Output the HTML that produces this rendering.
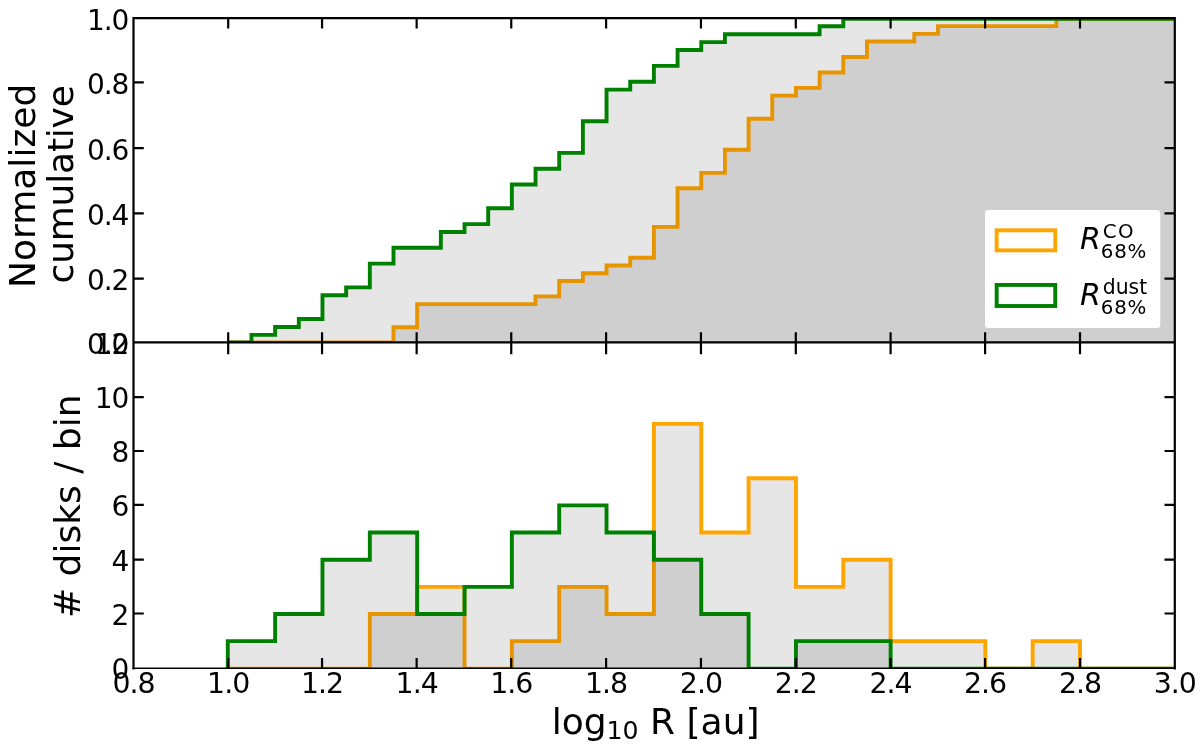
<!DOCTYPE html>
<html lang="en">
<head>
<meta charset="utf-8">
<title>Disk radii histograms</title>
<style>
html,body{margin:0;padding:0;background:#fff}
body{width:1200px;height:749px;overflow:hidden}
svg{display:block}
</style>
</head>
<body>
<svg width="1200" height="749" viewBox="0 0 1200 749">
<defs>
<clipPath id="ct"><rect x="133.5" y="18.1" width="1041.3" height="324.35"/></clipPath>
<clipPath id="cb"><rect x="133.5" y="342.45" width="1041.3" height="325.85"/></clipPath>
</defs>
<rect width="1200" height="749" fill="#fff"/>
<g clip-path="url(#ct)" stroke-linejoin="miter" stroke-linecap="butt">
<path d="M227.79 342.45 L251.46 342.45 L275.14 342.45 L298.81 342.45 L322.48 342.45 L346.15 342.45 L369.83 342.45 L393.5 342.45 L393.5 327.3 L417.17 327.3 L417.17 304.14 L440.85 304.14 L464.52 304.14 L488.19 304.14 L511.86 304.14 L535.54 304.14 L535.54 296.41 L559.21 296.41 L559.21 280.97 L582.88 280.97 L582.88 273.25 L606.55 273.25 L606.55 265.52 L630.23 265.52 L630.23 257.8 L653.9 257.8 L653.9 226.91 L677.57 226.91 L677.57 188.3 L701.25 188.3 L701.25 172.85 L724.92 172.85 L724.92 149.68 L748.59 149.68 L748.59 118.79 L772.26 118.79 L772.26 95.63 L795.94 95.63 L795.94 87.9 L819.61 87.9 L819.61 72.46 L843.28 72.46 L843.28 57.01 L866.95 57.01 L866.95 41.57 L890.63 41.57 L914.3 41.57 L914.3 33.85 L937.97 33.85 L937.97 26.12 L961.65 26.12 L985.32 26.12 L1008.99 26.12 L1032.66 26.12 L1056.34 26.12 L1056.34 18.7 L1080.01 18.7 L1103.68 18.7 L1127.35 18.7 L1151.03 18.7 L1174.7 18.7 L1174.7 342.45 Z" fill="#000" fill-opacity="0.099"/>
<path d="M227.79 342.45 L251.46 342.45 L275.14 342.45 L298.81 342.45 L322.48 342.45 L346.15 342.45 L369.83 342.45 L393.5 342.45 L393.5 327.3 L417.17 327.3 L417.17 304.14 L440.85 304.14 L464.52 304.14 L488.19 304.14 L511.86 304.14 L535.54 304.14 L535.54 296.41 L559.21 296.41 L559.21 280.97 L582.88 280.97 L582.88 273.25 L606.55 273.25 L606.55 265.52 L630.23 265.52 L630.23 257.8 L653.9 257.8 L653.9 226.91 L677.57 226.91 L677.57 188.3 L701.25 188.3 L701.25 172.85 L724.92 172.85 L724.92 149.68 L748.59 149.68 L748.59 118.79 L772.26 118.79 L772.26 95.63 L795.94 95.63 L795.94 87.9 L819.61 87.9 L819.61 72.46 L843.28 72.46 L843.28 57.01 L866.95 57.01 L866.95 41.57 L890.63 41.57 L914.3 41.57 L914.3 33.85 L937.97 33.85 L937.97 26.12 L961.65 26.12 L985.32 26.12 L1008.99 26.12 L1032.66 26.12 L1056.34 26.12 L1056.34 18.7 L1080.01 18.7 L1103.68 18.7 L1127.35 18.7 L1151.03 18.7 L1174.7 18.7" fill="none" stroke="#ffa500" stroke-width="3.9"/>
<path d="M227.79 342.45 L251.46 342.45 L251.46 334.84 L275.14 334.84 L275.14 326.93 L298.81 326.93 L298.81 319.02 L322.48 319.02 L322.48 295.28 L346.15 295.28 L346.15 287.37 L369.83 287.37 L369.83 263.64 L393.5 263.64 L393.5 247.82 L417.17 247.82 L440.85 247.82 L440.85 232 L464.52 232 L464.52 224.09 L488.19 224.09 L488.19 208.26 L511.86 208.26 L511.86 184.53 L535.54 184.53 L535.54 168.71 L559.21 168.71 L559.21 152.89 L582.88 152.89 L582.88 121.24 L606.55 121.24 L606.55 89.6 L630.23 89.6 L630.23 81.69 L653.9 81.69 L653.9 65.87 L677.57 65.87 L677.57 50.04 L701.25 50.04 L701.25 42.13 L724.92 42.13 L724.92 34.22 L748.59 34.22 L772.26 34.22 L795.94 34.22 L819.61 34.22 L819.61 26.31 L843.28 26.31 L843.28 18.7 L866.95 18.7 L890.63 18.7 L914.3 18.7 L937.97 18.7 L961.65 18.7 L985.32 18.7 L1008.99 18.7 L1032.66 18.7 L1056.34 18.7 L1080.01 18.7 L1103.68 18.7 L1127.35 18.7 L1151.03 18.7 L1174.7 18.7 L1174.7 342.45 Z" fill="#000" fill-opacity="0.099"/>
<path d="M227.79 342.45 L251.46 342.45 L251.46 334.84 L275.14 334.84 L275.14 326.93 L298.81 326.93 L298.81 319.02 L322.48 319.02 L322.48 295.28 L346.15 295.28 L346.15 287.37 L369.83 287.37 L369.83 263.64 L393.5 263.64 L393.5 247.82 L417.17 247.82 L440.85 247.82 L440.85 232 L464.52 232 L464.52 224.09 L488.19 224.09 L488.19 208.26 L511.86 208.26 L511.86 184.53 L535.54 184.53 L535.54 168.71 L559.21 168.71 L559.21 152.89 L582.88 152.89 L582.88 121.24 L606.55 121.24 L606.55 89.6 L630.23 89.6 L630.23 81.69 L653.9 81.69 L653.9 65.87 L677.57 65.87 L677.57 50.04 L701.25 50.04 L701.25 42.13 L724.92 42.13 L724.92 34.22 L748.59 34.22 L772.26 34.22 L795.94 34.22 L819.61 34.22 L819.61 26.31 L843.28 26.31 L843.28 18.7 L866.95 18.7 L890.63 18.7 L914.3 18.7 L937.97 18.7 L961.65 18.7 L985.32 18.7 L1008.99 18.7 L1032.66 18.7 L1056.34 18.7 L1080.01 18.7 L1103.68 18.7 L1127.35 18.7 L1151.03 18.7 L1174.7 18.7" fill="none" stroke="#008000" stroke-width="3.9"/>
</g>
<g clip-path="url(#cb)" stroke-linejoin="miter" stroke-linecap="butt">
<path d="M227.79 668.7 L275.14 668.7 L322.48 668.7 L369.83 668.7 L369.83 613.99 L417.17 613.99 L417.17 586.84 L464.52 586.84 L464.52 668.7 L511.86 668.7 L511.86 641.15 L559.21 641.15 L559.21 586.84 L606.55 586.84 L606.55 613.99 L653.9 613.99 L653.9 423.91 L701.25 423.91 L701.25 532.53 L748.59 532.53 L748.59 478.22 L795.94 478.22 L795.94 586.84 L843.28 586.84 L843.28 559.68 L890.63 559.68 L890.63 641.15 L937.97 641.15 L985.32 641.15 L985.32 668.7 L1032.66 668.7 L1032.66 641.15 L1080.01 641.15 L1080.01 668.7 L1127.35 668.7 L1174.7 668.7 Z" fill="#000" fill-opacity="0.099"/>
<path d="M227.79 668.7 L275.14 668.7 L322.48 668.7 L369.83 668.7 L369.83 613.99 L417.17 613.99 L417.17 586.84 L464.52 586.84 L464.52 668.7 L511.86 668.7 L511.86 641.15 L559.21 641.15 L559.21 586.84 L606.55 586.84 L606.55 613.99 L653.9 613.99 L653.9 423.91 L701.25 423.91 L701.25 532.53 L748.59 532.53 L748.59 478.22 L795.94 478.22 L795.94 586.84 L843.28 586.84 L843.28 559.68 L890.63 559.68 L890.63 641.15 L937.97 641.15 L985.32 641.15 L985.32 668.7 L1032.66 668.7 L1032.66 641.15 L1080.01 641.15 L1080.01 668.7 L1127.35 668.7 L1174.7 668.7" fill="none" stroke="#ffa500" stroke-width="3.9"/>
<path d="M227.79 668.7 L227.79 641.15 L275.14 641.15 L275.14 613.99 L322.48 613.99 L322.48 559.68 L369.83 559.68 L369.83 532.53 L417.17 532.53 L417.17 613.99 L464.52 613.99 L464.52 586.84 L511.86 586.84 L511.86 532.53 L559.21 532.53 L559.21 505.38 L606.55 505.38 L606.55 532.53 L653.9 532.53 L653.9 559.68 L701.25 559.68 L701.25 613.99 L748.59 613.99 L748.59 668.7 L795.94 668.7 L795.94 641.15 L843.28 641.15 L890.63 641.15 L890.63 668.7 L937.97 668.7 L985.32 668.7 L1032.66 668.7 L1080.01 668.7 L1127.35 668.7 L1174.7 668.7 Z" fill="#000" fill-opacity="0.099"/>
<path d="M227.79 668.7 L227.79 641.15 L275.14 641.15 L275.14 613.99 L322.48 613.99 L322.48 559.68 L369.83 559.68 L369.83 532.53 L417.17 532.53 L417.17 613.99 L464.52 613.99 L464.52 586.84 L511.86 586.84 L511.86 532.53 L559.21 532.53 L559.21 505.38 L606.55 505.38 L606.55 532.53 L653.9 532.53 L653.9 559.68 L701.25 559.68 L701.25 613.99 L748.59 613.99 L748.59 668.7 L795.94 668.7 L795.94 641.15 L843.28 641.15 L890.63 641.15 L890.63 668.7 L937.97 668.7 L985.32 668.7 L1032.66 668.7 L1080.01 668.7 L1127.35 668.7 L1174.7 668.7" fill="none" stroke="#008000" stroke-width="3.9"/>
</g>
<g stroke="#000" stroke-width="2.2" fill="none">
<path d="M228.2 18.1 v10.3 M228.2 332.15 v22 M228.2 668.3 v-10.3"/>
<path d="M322.05 18.1 v10.3 M322.05 332.15 v22 M322.05 668.3 v-10.3"/>
<path d="M416.65 18.1 v10.3 M416.65 332.15 v22 M416.65 668.3 v-10.3"/>
<path d="M511.25 18.1 v10.3 M511.25 332.15 v22 M511.25 668.3 v-10.3"/>
<path d="M606.1 18.1 v10.3 M606.1 332.15 v22 M606.1 668.3 v-10.3"/>
<path d="M700.95 18.1 v10.3 M700.95 332.15 v22 M700.95 668.3 v-10.3"/>
<path d="M795.8 18.1 v10.3 M795.8 332.15 v22 M795.8 668.3 v-10.3"/>
<path d="M890.6 18.1 v10.3 M890.6 332.15 v22 M890.6 668.3 v-10.3"/>
<path d="M985.1 18.1 v10.3 M985.1 332.15 v22 M985.1 668.3 v-10.3"/>
<path d="M1080 18.1 v10.3 M1080 332.15 v22 M1080 668.3 v-10.3"/>
<path d="M133.5 278.6 h10.3 M1174.8 278.6 h-10.3"/>
<path d="M133.5 213.4 h10.3 M1174.8 213.4 h-10.3"/>
<path d="M133.5 148.2 h10.3 M1174.8 148.2 h-10.3"/>
<path d="M133.5 82.45 h10.3 M1174.8 82.45 h-10.3"/>
<path d="M133.5 613.5 h10.3 M1174.8 613.5 h-10.3"/>
<path d="M133.5 559.6 h10.3 M1174.8 559.6 h-10.3"/>
<path d="M133.5 504.8 h10.3 M1174.8 504.8 h-10.3"/>
<path d="M133.5 451 h10.3 M1174.8 451 h-10.3"/>
<path d="M133.5 397.1 h10.3 M1174.8 397.1 h-10.3"/>
</g>
<g stroke="#000" fill="none" stroke-linecap="square">
<path stroke-width="2.2" d="M133.5 18.1 V668.3 M1174.8 18.1 V668.3 M133.5 18.1 H1174.8 M133.5 342.45 H1174.8"/>
<path stroke-width="1.5" d="M133.5 668.3 H1174.8"/>
</g>
<rect x="985" y="210" width="175.3" height="118" rx="3.5" fill="#fff"/>
<rect x="996.65" y="230.3" width="58.6" height="20.05" fill="none" stroke="#ffa500" stroke-width="3.9"/>
<rect x="996.65" y="284.95" width="58.6" height="21.05" fill="none" stroke="#008000" stroke-width="3.9"/>
<g style='font-family:"DejaVu Sans", "Liberation Sans", sans-serif' fill="#000">
<g font-size="28.4" text-anchor="middle" letter-spacing="-1">
<text x="133.5" y="692.9">0.8</text>
<text x="228.2" y="692.9">1.0</text>
<text x="322.05" y="692.9">1.2</text>
<text x="416.65" y="692.9">1.4</text>
<text x="511.25" y="692.9">1.6</text>
<text x="606.1" y="692.9">1.8</text>
<text x="700.95" y="692.9">2.0</text>
<text x="795.8" y="692.9">2.2</text>
<text x="890.6" y="692.9">2.4</text>
<text x="985.1" y="692.9">2.6</text>
<text x="1080" y="692.9">2.8</text>
<text x="1174.75" y="692.9">3.0</text>
</g>
<g font-size="28" text-anchor="end" letter-spacing="-1.1">
<text x="128.3" y="353.75">0.0</text>
<text x="128.3" y="289.9">0.2</text>
<text x="128.3" y="224.7">0.4</text>
<text x="128.3" y="159.5">0.6</text>
<text x="128.3" y="93.75">0.8</text>
<text x="128.3" y="30">1.0</text>
<text x="128.3" y="678.7">0</text>
<text x="128.3" y="624.8">2</text>
<text x="128.3" y="570.9">4</text>
<text x="128.3" y="516.1">6</text>
<text x="128.3" y="462.3">8</text>
<text x="128.3" y="408.4">10</text>
<text x="128.3" y="353.75">12</text>
</g>
<text font-size="36" x="551.7" y="734">log<tspan font-size="25.2" dy="4.5">10</tspan><tspan dy="-4.5"> R [au]</tspan></text>
<g font-size="36" text-anchor="middle">
<text transform="translate(35 185.8) rotate(-90)">Normalized</text>
<text transform="translate(73.2 184.4) rotate(-90)" letter-spacing="-0.2">cumulative</text>
<text transform="translate(80.2 506.3) rotate(-90)"># disks / bin</text>
</g>
<text font-size="30" font-style="italic" x="1080" y="248.55">R</text>
<text font-size="19.8" letter-spacing="1.5" x="1102.7" y="237.5">CO</text>
<text font-size="19.8" letter-spacing="0.8" x="1100.8" y="257.65">68%</text>
<text font-size="30" font-style="italic" x="1080" y="304.55">R</text>
<text font-size="20.4" letter-spacing="0" x="1102.7" y="293.5">dust</text>
<text font-size="19.8" letter-spacing="0.8" x="1100.8" y="313.65">68%</text>
</g>
</svg>
</body>
</html>
